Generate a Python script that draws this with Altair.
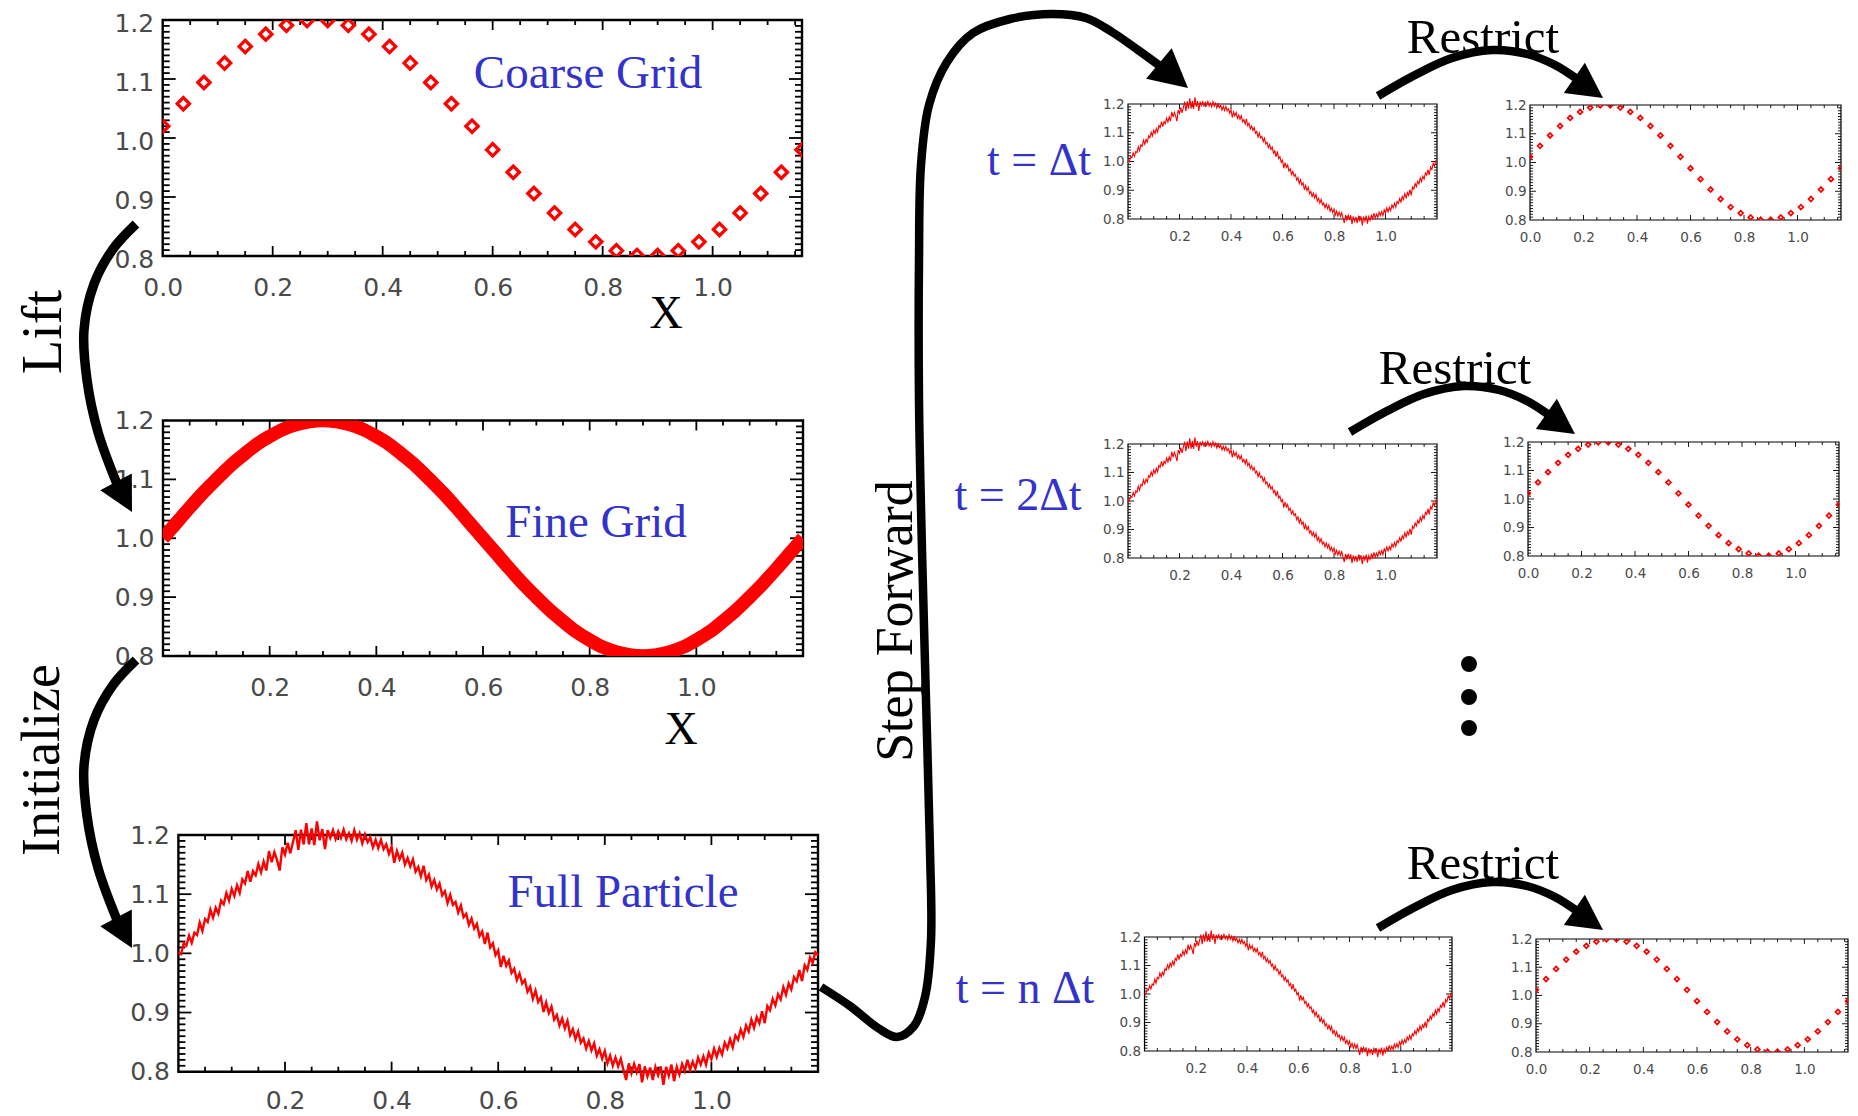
import math
import altair as alt
import pandas as pd

# ---------------------------------------------------------------- data
# coarse-grid samples (diamonds)
coarse_x = [0.0, 0.0375, 0.075, 0.1125, 0.15, 0.1875, 0.225, 0.2625, 0.3, 0.3375,
            0.375, 0.4125, 0.45, 0.4875, 0.525, 0.5625, 0.6, 0.6375, 0.675, 0.7125,
            0.75, 0.7875, 0.825, 0.8625, 0.9, 0.9375, 0.975, 1.0125, 1.05, 1.0875,
            1.125, 1.1625]
coarse_y = [1.020, 1.058, 1.094, 1.127, 1.155, 1.176, 1.191, 1.199, 1.199, 1.191,
            1.176, 1.155, 1.127, 1.094, 1.058, 1.020, 0.980, 0.942, 0.906, 0.873,
            0.845, 0.824, 0.809, 0.801, 0.801, 0.809, 0.824, 0.845, 0.873, 0.906,
            0.942, 0.980]

# fine-grid curve (thick band)
fine_x = [0.0, 0.025, 0.05, 0.075, 0.1, 0.125, 0.15, 0.175, 0.2, 0.225, 0.25, 0.275,
          0.3, 0.325, 0.35, 0.375, 0.4, 0.425, 0.45, 0.475, 0.5, 0.525, 0.55, 0.575,
          0.6, 0.625, 0.65, 0.675, 0.7, 0.725, 0.75, 0.775, 0.8, 0.825, 0.85, 0.875,
          0.9, 0.925, 0.95, 0.975, 1.0, 1.025, 1.05, 1.075, 1.1, 1.125, 1.15, 1.175, 1.2]
fine_y = [1.000, 1.026, 1.052, 1.077, 1.100, 1.122, 1.141, 1.159, 1.173, 1.185, 1.193, 1.198,
          1.200, 1.198, 1.193, 1.185, 1.173, 1.159, 1.141, 1.122, 1.100, 1.077, 1.052, 1.026,
          1.000, 0.974, 0.948, 0.923, 0.900, 0.878, 0.859, 0.841, 0.827, 0.815, 0.807, 0.802,
          0.800, 0.802, 0.807, 0.815, 0.827, 0.841, 0.859, 0.878, 0.900, 0.923, 0.948, 0.974, 1.000]

# full-particle (noisy) curve, sampled every 0.005 in x
particle_y = [
    1.002, 0.999, 1.017, 1.013, 1.030, 1.018, 1.035, 1.031, 1.052, 1.038,
    1.058, 1.053, 1.074, 1.060, 1.077, 1.067, 1.089, 1.083, 1.102, 1.089,
    1.109, 1.097, 1.115, 1.102, 1.125, 1.118, 1.139, 1.121, 1.139, 1.132,
    1.151, 1.137, 1.155, 1.140, 1.173, 1.154, 1.171, 1.158, 1.140, 1.179,
    1.167, 1.187, 1.169, 1.188, 1.208, 1.175, 1.209, 1.184, 1.220, 1.184,
    1.211, 1.183, 1.223, 1.191, 1.210, 1.176, 1.208, 1.195, 1.208, 1.193,
    1.206, 1.195, 1.209, 1.193, 1.203, 1.190, 1.208, 1.192, 1.203, 1.186,
    1.201, 1.188, 1.196, 1.179, 1.192, 1.178, 1.192, 1.176, 1.184, 1.168,
    1.180, 1.153, 1.173, 1.159, 1.170, 1.150, 1.161, 1.147, 1.159, 1.138,
    1.146, 1.130, 1.148, 1.124, 1.133, 1.113, 1.124, 1.108, 1.118, 1.098,
    1.105, 1.085, 1.099, 1.082, 1.087, 1.069, 1.081, 1.061, 1.067, 1.048,
    1.059, 1.042, 1.050, 1.029, 1.037, 1.016, 1.035, 1.010, 1.017, 0.997,
    1.005, 0.977, 0.996, 0.979, 0.988, 0.967, 0.974, 0.955, 0.966, 0.949,
    0.955, 0.935, 0.944, 0.923, 0.937, 0.918, 0.926, 0.901, 0.917, 0.899,
    0.910, 0.888, 0.896, 0.878, 0.890, 0.873, 0.886, 0.862, 0.872, 0.855,
    0.868, 0.849, 0.856, 0.839, 0.852, 0.836, 0.848, 0.827, 0.838, 0.822,
    0.835, 0.814, 0.827, 0.810, 0.824, 0.809, 0.822, 0.803, 0.786, 0.814,
    0.797, 0.813, 0.799, 0.813, 0.782, 0.809, 0.792, 0.807, 0.786, 0.808,
    0.794, 0.809, 0.778, 0.808, 0.793, 0.812, 0.784, 0.808, 0.795, 0.813,
    0.801, 0.820, 0.803, 0.817, 0.805, 0.824, 0.812, 0.826, 0.812, 0.832,
    0.821, 0.839, 0.825, 0.840, 0.829, 0.849, 0.839, 0.855, 0.841, 0.861,
    0.854, 0.871, 0.859, 0.878, 0.868, 0.888, 0.874, 0.892, 0.882, 0.902,
    0.882, 0.911, 0.904, 0.923, 0.912, 0.931, 0.922, 0.943, 0.930, 0.949,
    0.939, 0.960, 0.953, 0.972, 0.953, 0.980, 0.972, 0.993, 0.984, 1.002,
    0.997]
PARTICLE_DX = 0.005
particle_x = [round(i * PARTICLE_DX, 4) for i in range(len(particle_y))]

# tick values / tick labels
x_labels_all = [0.0, 0.2, 0.4, 0.6, 0.8, 1.0]
x_labels_nozero = [0.2, 0.4, 0.6, 0.8, 1.0]
y_labels = [0.8, 0.9, 1.0, 1.1, 1.2]
x_major = [0.0, 0.2, 0.4, 0.6, 0.8, 1.0, 1.2]
x_minor = [round(i * 0.05, 3) for i in range(25)]
y_minor = [round(0.8 + i * 0.01, 3) for i in range(41)]

# annotation texts
texts_h = ["Coarse Grid", "Fine Grid", "Full Particle", "X", "X",
           "Restrict", "Restrict", "Restrict", "t = \u0394t", "t = 2\u0394t", "t = n \u0394t"]
texts_v = ["Lift", "Initialize", "Step Forward"]

# ---------------------------------------------------------------- layout / style
MARGIN = 8
W, H = 1842, 1106
RED = "#ff0000"
BLUE = "#3333cc"
LABEL = "#4a4a4a"
SERIF = "Liberation Serif"
SANS = "DejaVu Sans"

STYLE = {
    "big": dict(frame=2.4, tick=1.8, xmaj=10, xmin=5, ymaj=13, ymin=7, fs=25,
                xpad=19, ypad=9, dsize=150, dstroke=3.3, lw=2.4),
    "small": dict(frame=1.2, tick=0.9, xmaj=5, xmin=3, ymaj=6, ymin=3, fs=13.5,
                  xpad=10, ypad=4, dsize=24, dstroke=1.7, lw=1.1),
}

# panel boxes in page pixels: (left, right, top, bottom)
PANELS = [
    dict(kind="coarse", box=(162.7, 802, 20, 256), size="big", xlabels=x_labels_all, yoff=3),
    dict(kind="fine", box=(163, 803, 420.5, 656), size="big", xlabels=x_labels_nozero),
    dict(kind="particle", box=(178.4, 818, 835, 1071.7), size="big", xlabels=x_labels_nozero, xpad=17),
    dict(kind="particle", box=(1128, 1437, 104, 219), size="small", xlabels=x_labels_nozero),
    dict(kind="coarse", box=(1530, 1841, 105, 220), size="small", xlabels=x_labels_all),
    dict(kind="particle", box=(1128, 1437, 444, 558), size="small", xlabels=x_labels_nozero),
    dict(kind="coarse", box=(1528, 1839, 442, 556), size="small", xlabels=x_labels_all),
    dict(kind="particle", box=(1144.5, 1452, 937, 1051), size="small", xlabels=x_labels_nozero),
    dict(kind="coarse", box=(1536, 1848, 939, 1052), size="small", xlabels=x_labels_all),
]
XDOM = {"coarse": (0.0, 1.1625), "fine": (0.0, 1.2), "particle": (0.0, 1.2)}

USE_CLIP = True


def panel_layers(p, use_clip):
    L, R, T, B = (v - MARGIN for v in p["box"])
    x0, x1 = XDOM[p["kind"]]
    y0, y1 = 0.8, 1.2
    st = STYLE[p["size"]]
    xs = alt.Scale(domain=[x0, x1], range=[L, R], nice=False, zero=False)
    ys = alt.Scale(domain=[y0, y1], range=[B, T], nice=False, zero=False)
    kx = (x1 - x0) / (R - L)
    ky = (y1 - y0) / (B - T)

    xt = []
    for v in x_minor:
        if x0 + 1e-6 < v < x1 - 1e-6:
            ln = st["xmaj"] if any(abs(v - m) < 1e-6 for m in x_major) else st["xmin"]
            xt.append({"v": v, "a": y0, "b": y0 + ln * ky})
            xt.append({"v": v, "a": y1, "b": y1 - ln * ky})
    yt = []
    for v in y_minor:
        if y0 + 1e-6 < v < y1 - 1e-6:
            ln = st["ymaj"] if any(abs(v - m) < 1e-6 for m in y_labels) else st["ymin"]
            yt.append({"v": v, "a": x0, "b": x0 + ln * kx})
            yt.append({"v": v, "a": x1, "b": x1 - ln * kx})

    frame = alt.Chart(pd.DataFrame([{"x0": x0, "x1": x1, "y0": y0, "y1": y1}])).mark_rect(
        filled=False, color="black", strokeWidth=st["frame"]
    ).encode(
        x=alt.X("x0:Q", scale=xs, axis=None), x2="x1:Q",
        y=alt.Y("y0:Q", scale=ys, axis=None), y2="y1:Q",
    )
    xtick = alt.Chart(pd.DataFrame(xt)).mark_rule(color="black", strokeWidth=st["tick"]).encode(
        x=alt.X("v:Q", scale=xs, axis=None),
        y=alt.Y("a:Q", scale=ys, axis=None), y2="b:Q",
    )
    ytick = alt.Chart(pd.DataFrame(yt)).mark_rule(color="black", strokeWidth=st["tick"]).encode(
        y=alt.Y("v:Q", scale=ys, axis=None),
        x=alt.X("a:Q", scale=xs, axis=None), x2="b:Q",
    )

    xaxis = alt.Axis(orient="bottom", offset=B - H, values=p["xlabels"], format=".1f",
                     labelFlush=False, labelOverlap=False, ticks=False, domain=False,
                     grid=False, title=None, labelFont=SANS, labelFontSize=st["fs"],
                     labelColor=LABEL, labelPadding=p.get("xpad", st["xpad"]))
    yaxis = alt.Axis(orient="left", offset=-L, values=y_labels, format=".1f",
                     labelFlush=False, labelOverlap=False, ticks=False, domain=False,
                     grid=False, title=None, labelFont=SANS, labelFontSize=st["fs"],
                     labelColor=LABEL, labelPadding=st["ypad"], labelOffset=p.get("yoff", 0))
    clip_kw = {}
    if use_clip:
        clip_kw = {"clip": alt.ExprRef(expr=f"pathShape('M{L},{T}H{R}V{B}H{L}Z')")}

    if p["kind"] == "coarse":
        df = pd.DataFrame({"x": coarse_x, "y": coarse_y})
        data = alt.Chart(df).mark_point(shape="diamond", filled=False, color=RED, opacity=1,
                                        strokeWidth=st["dstroke"], size=st["dsize"], **clip_kw)
    elif p["kind"] == "fine":
        df = pd.DataFrame({"x": fine_x, "y": fine_y})
        data = alt.Chart(df).mark_line(color=RED, strokeWidth=13.5, interpolate="monotone", **clip_kw)
    else:
        df = pd.DataFrame({"x": particle_x, "y": particle_y})
        data = alt.Chart(df).mark_line(color=RED, strokeWidth=st["lw"], strokeJoin="miter")
    data = data.encode(x=alt.X("x:Q", scale=xs, axis=xaxis), y=alt.Y("y:Q", scale=ys, axis=yaxis))
    return [frame, xtick, ytick, data]


# ---------------------------------------------------------------- annotations (page px)
def shift(pts, dx, dy):
    return [(x + dx, y + dy) for x, y in pts]

lift_path = [(136, 224), (113, 249), (94, 284), (84, 330), (87, 380), (98, 432), (117, 484)]
restrict_path = [(1378, 96), (1415, 75), (1452, 58), (1492, 50), (1527, 54), (1555, 65), (1577, 79)]
step_path = [(821, 987), (850, 1006), (878, 1028), (897, 1037), (914, 1026), (925, 997),
             (931, 940), (930, 850), (926, 700), (922, 550), (919, 400), (919, 260),
             (921, 165), (929, 105), (947, 62), (973, 33), (1010, 19), (1052, 14),
             (1086, 18), (1112, 32), (1138, 50), (1160, 66)]
SHAFTS = [
    (lift_path, 9.5),
    (shift(lift_path, 0, 436), 9.5),
    (step_path, 8.5),
    (restrict_path, 8.5),
    (shift(restrict_path, -28, 336), 8.5),
    (shift(restrict_path, 0, 832), 8.5),
]
# arrow heads: tip (page px), direction angle (deg, screen coords), length
HEADS = [
    ((132, 512), 62, 34),
    ((132, 948), 62, 34),
    ((1188, 88), 40, 38),
    ((1603, 98), 35, 35),
    ((1575, 434), 35, 35),
    ((1603, 930), 35, 35),
]
HEAD_SHAPE = "M0,-1L1.05,1L-1.05,1Z"

TEXT_H_POS = [  # x, baseline y, font size, colour
    (588, 88, 47, BLUE), (596, 537, 47, BLUE), (623, 907, 47, BLUE),
    (666, 328, 46, "black"), (681, 744, 46, "black"),
    (1483, 53, 49, "black"), (1455, 384, 49, "black"), (1483, 879, 49, "black"),
    (1039, 175, 46, BLUE), (1018, 510, 46, BLUE), (1025, 1003, 46, BLUE),
]
TEXT_V_POS = [(44, 332, 56), (43, 760, 54), (896, 621, 52)]
DOTS = [(1469, 664), (1469, 697), (1469, 728)]

cx = alt.Scale(domain=[0, W], range=[0, W], nice=False, zero=False)
cy = alt.Scale(domain=[0, H], range=[0, H], nice=False, zero=False)


def annotation_layers():
    rows = []
    for i, (pts, w) in enumerate(SHAFTS):
        for j, (x, y) in enumerate(pts):
            rows.append({"id": i, "o": j, "x": x - MARGIN, "y": y - MARGIN, "w": w})
    shafts = alt.Chart(pd.DataFrame(rows)).mark_line(
        color="black", interpolate="catmull-rom", strokeCap="butt"
    ).encode(
        x=alt.X("x:Q", scale=cx, axis=None), y=alt.Y("y:Q", scale=cy, axis=None),
        detail="id:N", order="o:Q", strokeWidth=alt.StrokeWidth("w:Q", scale=None),
    )
    hrows = []
    for (tx, ty), th, ln in HEADS:
        c, s = math.cos(math.radians(th)), math.sin(math.radians(th))
        hrows.append({"x": tx - c * ln / 2 - MARGIN, "y": ty - s * ln / 2 - MARGIN,
                      "a": (th + 90) % 360, "s": ln * ln})
    heads = alt.Chart(pd.DataFrame(hrows)).mark_point(
        shape=HEAD_SHAPE, filled=True, color="black", opacity=1, strokeWidth=0
    ).encode(
        x=alt.X("x:Q", scale=cx, axis=None), y=alt.Y("y:Q", scale=cy, axis=None),
        angle=alt.Angle("a:Q", scale=None), size=alt.Size("s:Q", scale=None),
    )
    dots = alt.Chart(pd.DataFrame([{"x": x - MARGIN, "y": y - MARGIN} for x, y in DOTS])).mark_circle(
        size=254, color="black", opacity=1
    ).encode(x=alt.X("x:Q", scale=cx, axis=None), y=alt.Y("y:Q", scale=cy, axis=None))

    th_rows = [{"t": t, "x": x - MARGIN, "y": y - MARGIN, "fs": fs, "c": c}
               for t, (x, y, fs, c) in zip(texts_h, TEXT_H_POS)]
    th = alt.Chart(pd.DataFrame(th_rows)).mark_text(
        font=SERIF, align="center", baseline="alphabetic"
    ).encode(
        x=alt.X("x:Q", scale=cx, axis=None), y=alt.Y("y:Q", scale=cy, axis=None),
        text="t:N", size=alt.Size("fs:Q", scale=None), color=alt.Color("c:N", scale=None),
    )
    tv_rows = [{"t": t, "x": x - MARGIN, "y": y - MARGIN, "fs": fs}
               for t, (x, y, fs) in zip(texts_v, TEXT_V_POS)]
    tv = alt.Chart(pd.DataFrame(tv_rows)).mark_text(
        font=SERIF, align="center", baseline="middle", angle=270, color="black"
    ).encode(
        x=alt.X("x:Q", scale=cx, axis=None), y=alt.Y("y:Q", scale=cy, axis=None),
        text="t:N", size=alt.Size("fs:Q", scale=None),
    )
    return [shafts, heads, dots, th, tv]


def build(use_clip):
    layers = []
    for p in PANELS:
        layers += panel_layers(p, use_clip)
    layers += annotation_layers()
    return alt.layer(*layers).resolve_scale(x="independent", y="independent").properties(
        width=W, height=H, padding=0, autosize=alt.AutoSizeParams(type="none"),
        background="white",
    ).configure_view(strokeWidth=0)


try:
    chart = build(USE_CLIP)
    chart.to_dict()
except Exception:
    chart = build(False)

chart.save("out.html", embed_options={"renderer": "svg", "actions": False})
